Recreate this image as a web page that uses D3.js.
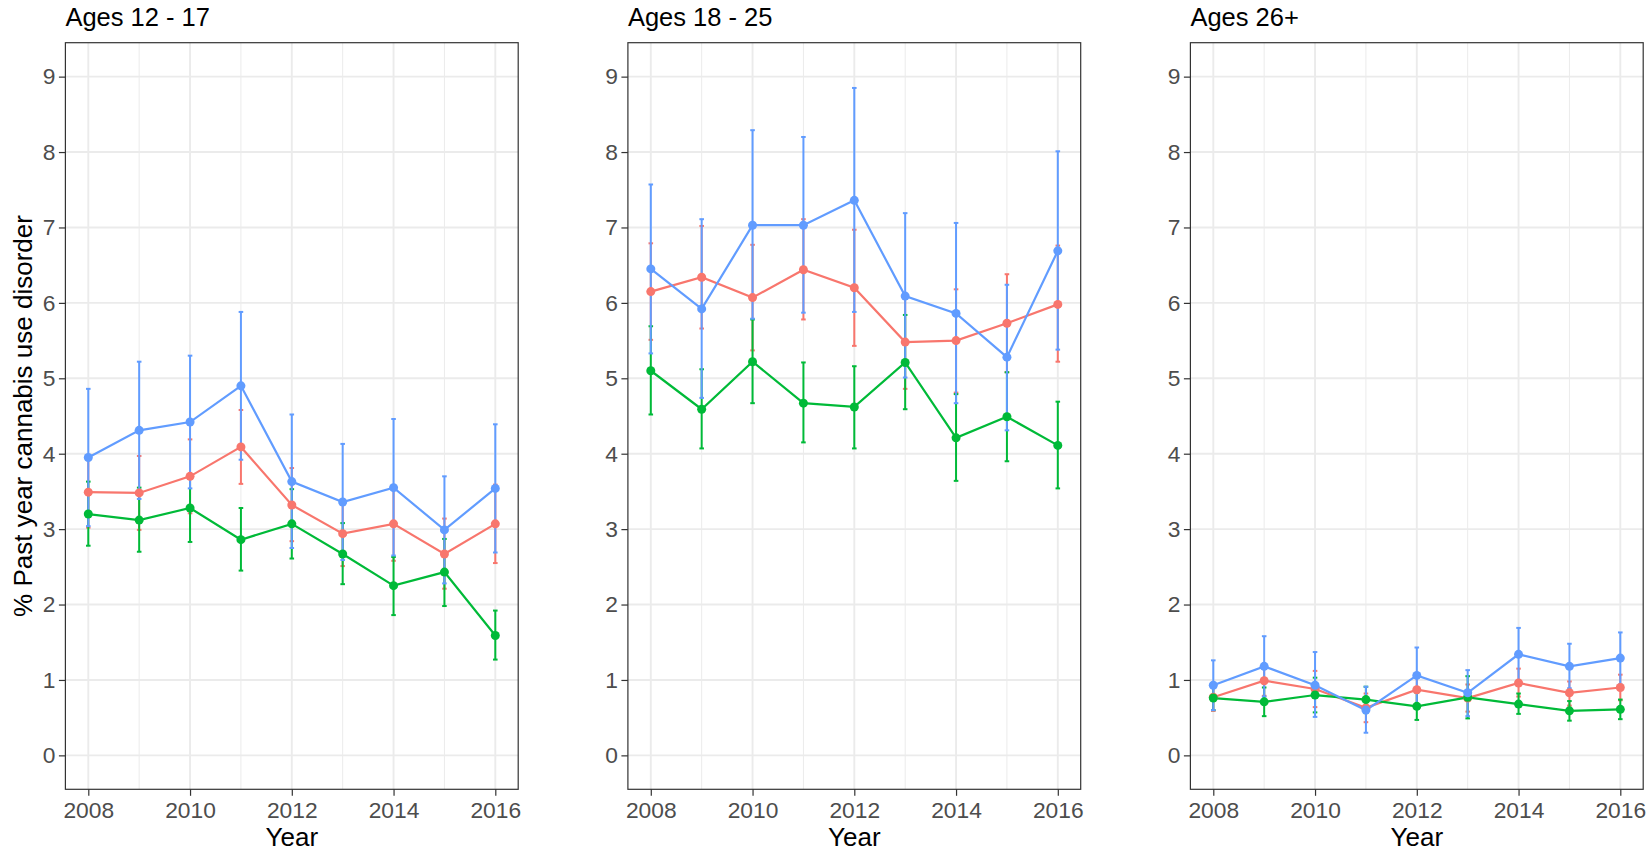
<!DOCTYPE html>
<html>
<head>
<meta charset="utf-8">
<script src="https://cdn.jsdelivr.net/npm/d3@7"></script>
<style>
body { margin: 0; background: #fff; }
text { font-family: "Liberation Sans", Arial, Helvetica, sans-serif; }
</style>
</head>
<body>
<svg id="chart" width="1651" height="853"></svg>
<script>
// DATA
var years = [2008, 2009, 2010, 2011, 2012, 2013, 2014, 2015, 2016];
var panelTitles = ["Ages 12 - 17", "Ages 18 - 25", "Ages 26+"];
var groupColors = ["#F8766D", "#00BA38", "#619CFF"];
var yTicks = [0, 1, 2, 3, 4, 5, 6, 7, 8, 9];
var xTicks = [2008, 2010, 2012, 2014, 2016];

// ages 12-17 : [red, green, blue]
var est_12_17 = [
    [3.49, 3.48, 3.70, 4.09, 3.32, 2.94, 3.07, 2.67, 3.07],
    [3.20, 3.12, 3.28, 2.86, 3.07, 2.67, 2.25, 2.43, 1.59],
    [3.95, 4.31, 4.42, 4.90, 3.63, 3.36, 3.55, 2.99, 3.54]];
var lo_12_17 = [
    [3.02, 2.99, 3.21, 3.60, 2.84, 2.51, 2.58, 2.21, 2.55],
    [2.78, 2.70, 2.83, 2.45, 2.61, 2.27, 1.86, 1.98, 1.27],
    [3.04, 3.40, 3.54, 3.92, 2.75, 2.59, 2.65, 2.28, 2.69]];
var hi_12_17 = [
    [3.96, 3.97, 4.19, 4.58, 3.81, 3.37, 3.57, 3.14, 3.59],
    [3.63, 3.55, 3.72, 3.28, 3.53, 3.08, 2.63, 2.87, 1.92],
    [4.86, 5.22, 5.30, 5.88, 4.52, 4.13, 4.46, 3.70, 4.39]];

// ages 18-25
var est_18_25 = [
    [6.15, 6.34, 6.07, 6.44, 6.20, 5.48, 5.50, 5.73, 5.98],
    [5.10, 4.59, 5.22, 4.67, 4.62, 5.21, 4.21, 4.49, 4.11],
    [6.45, 5.92, 7.03, 7.03, 7.36, 6.09, 5.86, 5.28, 6.69]];
var lo_18_25 = [
    [5.51, 5.66, 5.37, 5.78, 5.43, 4.86, 4.81, 5.08, 5.22],
    [4.52, 4.07, 4.67, 4.15, 4.07, 4.59, 3.64, 3.90, 3.54],
    [5.33, 4.74, 5.79, 5.87, 5.88, 5.01, 4.67, 4.31, 5.38]];
var hi_18_25 = [
    [6.79, 7.02, 6.77, 7.11, 6.97, 6.10, 6.18, 6.38, 6.76],
    [5.69, 5.12, 5.78, 5.21, 5.16, 5.84, 4.79, 5.08, 4.69],
    [7.57, 7.11, 8.29, 8.20, 8.85, 7.19, 7.06, 6.24, 8.01]];

// ages 26+
var est_26 = [
    [0.77, 0.99, 0.88, 0.63, 0.87, 0.76, 0.96, 0.83, 0.90],
    [0.76, 0.71, 0.80, 0.74, 0.65, 0.77, 0.68, 0.59, 0.61],
    [0.93, 1.18, 0.93, 0.60, 1.06, 0.83, 1.34, 1.18, 1.29]];
var lo_26 = [
    [0.59, 0.79, 0.64, 0.44, 0.67, 0.58, 0.78, 0.66, 0.73],
    [0.60, 0.52, 0.57, 0.56, 0.47, 0.49, 0.55, 0.46, 0.48],
    [0.60, 0.78, 0.51, 0.30, 0.68, 0.52, 0.98, 0.89, 0.94]];
var hi_26 = [
    [0.96, 1.19, 1.12, 0.82, 1.07, 0.94, 1.15, 0.98, 1.07],
    [0.93, 0.90, 1.03, 0.91, 0.83, 1.05, 0.82, 0.72, 0.74],
    [1.26, 1.58, 1.37, 0.91, 1.43, 1.13, 1.69, 1.48, 1.63]];

var panelEst = [est_12_17, est_18_25, est_26];
var panelLo = [lo_12_17, lo_18_25, lo_26];
var panelHi = [hi_12_17, hi_18_25, hi_26];

// LAYOUT
var svg = d3.select("#chart");
var firstLeft = 65.4, panelStep = 562.5, panelW = 452.8;
var panelTop = 42.7, panelBottom = 789.3;
var capHalf = 0.045;

panelTitles.forEach(function(title, p) {
    var left = firstLeft + p * panelStep;
    var x = d3.scaleLinear().domain([2007.55, 2016.45]).range([left, left + panelW]);
    var y = d3.scaleLinear().domain([-0.45, 9.45]).range([panelBottom, panelTop]);
    var g = svg.append("g");

    // grid
    g.selectAll(".minorx").data(years.filter(function(d) { return d % 2 == 1; }))
	.enter().append("line")
	.attr("x1", function(d) { return x(d); }).attr("x2", function(d) { return x(d); })
	.attr("y1", panelTop).attr("y2", panelBottom)
	.attr("stroke", "#EBEBEB").attr("stroke-width", 1);
    g.selectAll(".majorx").data(xTicks).enter().append("line")
	.attr("x1", function(d) { return x(d); }).attr("x2", function(d) { return x(d); })
	.attr("y1", panelTop).attr("y2", panelBottom)
	.attr("stroke", "#EBEBEB").attr("stroke-width", 1.9);
    g.selectAll(".majory").data(yTicks).enter().append("line")
	.attr("x1", left).attr("x2", left + panelW)
	.attr("y1", function(d) { return y(d); }).attr("y2", function(d) { return y(d); })
	.attr("stroke", "#EBEBEB").attr("stroke-width", 1.9);

    var est = panelEst[p], lo = panelLo[p], hi = panelHi[p];

    // error bars
    est.forEach(function(series, s) {
	var eb = g.append("g").attr("stroke", groupColors[s]).attr("stroke-width", 2);
	years.forEach(function(yr, i) {
	    eb.append("line").attr("x1", x(yr)).attr("x2", x(yr))
		.attr("y1", y(lo[s][i])).attr("y2", y(hi[s][i]));
	    eb.append("line").attr("x1", x(yr - capHalf)).attr("x2", x(yr + capHalf))
		.attr("y1", y(lo[s][i])).attr("y2", y(lo[s][i]));
	    eb.append("line").attr("x1", x(yr - capHalf)).attr("x2", x(yr + capHalf))
		.attr("y1", y(hi[s][i])).attr("y2", y(hi[s][i]));
	});
    });

    // lines
    var line = d3.line()
	.x(function(d, i) { return x(years[i]); })
	.y(function(d) { return y(d); });
    est.forEach(function(series, s) {
	g.append("path").datum(series)
	    .attr("d", line)
	    .attr("fill", "none")
	    .attr("stroke", groupColors[s])
	    .attr("stroke-width", 2.2);
    });

    // points
    est.forEach(function(series, s) {
	g.selectAll(".pt" + s).data(series).enter().append("circle")
	    .attr("cx", function(d, i) { return x(years[i]); })
	    .attr("cy", function(d) { return y(d); })
	    .attr("r", 4.5)
	    .attr("fill", groupColors[s]);
    });

    // border
    g.append("rect")
	.attr("x", left).attr("y", panelTop)
	.attr("width", panelW).attr("height", panelBottom - panelTop)
	.attr("fill", "none").attr("stroke", "#333333").attr("stroke-width", 1.2);

    // axes
    var yAxis = g.append("g")
	.attr("transform", "translate(" + left + ",0)")
	.call(d3.axisLeft(y).tickValues(yTicks).tickSize(6.5).tickPadding(3.5));
    var xAxis = g.append("g")
	.attr("transform", "translate(0," + panelBottom + ")")
	.call(d3.axisBottom(x).tickValues(xTicks).tickFormat(d3.format("d"))
	      .tickSize(6.5).tickPadding(6));
    [yAxis, xAxis].forEach(function(a) {
	a.select(".domain").remove();
	a.selectAll(".tick line").attr("stroke", "#333333").attr("stroke-width", 1.2);
	a.selectAll(".tick text")
	    .attr("fill", "#4D4D4D")
	    .style("font-size", "22.8px")
	    .style("font-family", '"Liberation Sans", Arial, Helvetica, sans-serif');
    });

    // titles
    g.append("text")
	.attr("x", left).attr("y", 26)
	.style("font-size", "25.5px")
	.attr("fill", "#000")
	.text(title);
    g.append("text")
	.attr("x", left + panelW / 2).attr("y", 846)
	.attr("text-anchor", "middle")
	.style("font-size", "26px")
	.attr("fill", "#000")
	.text("Year");
});

svg.append("text")
    .attr("transform", "translate(32," + ((panelTop + panelBottom) / 2) + ") rotate(-90)")
    .attr("text-anchor", "middle")
    .style("font-size", "26px")
    .attr("fill", "#000")
    .text("% Past year cannabis use disorder");
</script>
</body>
</html>
